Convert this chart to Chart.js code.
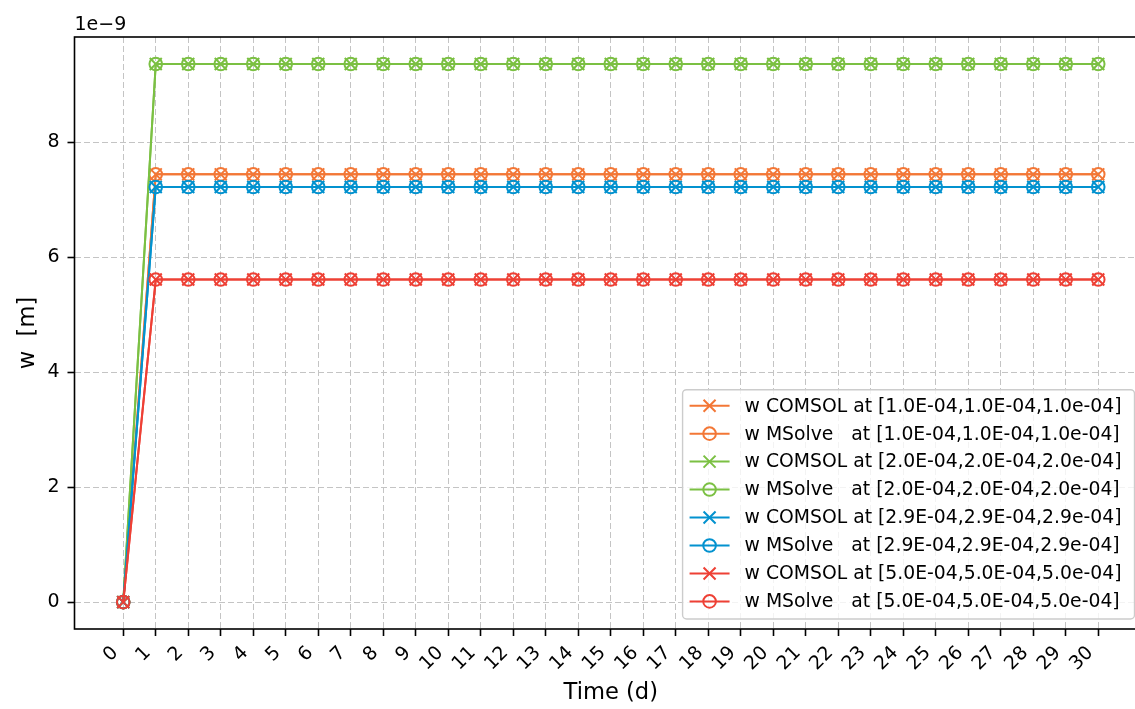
<!DOCTYPE html>
<html>
<head>
<meta charset="utf-8">
<script src="https://cdn.jsdelivr.net/npm/chart.js@4.4.0/dist/chart.umd.min.js"></script>
<style>
  html, body { margin: 0; padding: 0; background: #fff; overflow: hidden; width: 1135px; height: 709px; }
  canvas { display: block; }
</style>
</head>
<body>
<canvas id="chart" width="1147" height="709" style="width:1147px;height:709px"></canvas>
<script>
// Time axis (days)
const days = [0, 1, 2, 3, 4, 5, 6, 7, 8, 9, 10, 11, 12, 13, 14, 15, 16, 17, 18, 19, 20, 21, 22, 23, 24, 25, 26, 27, 28, 29, 30];
const xTickValues = days;
const yTickValues = [0, 2e-9, 4e-9, 6e-9, 8e-9];

// Displacement w [m] at four probe points, COMSOL vs MSolve
const wComsolP1 = [0, 7.44e-9, 7.44e-9, 7.44e-9, 7.44e-9, 7.44e-9, 7.44e-9, 7.44e-9, 7.44e-9, 7.44e-9, 7.44e-9, 7.44e-9, 7.44e-9, 7.44e-9, 7.44e-9, 7.44e-9, 7.44e-9, 7.44e-9, 7.44e-9, 7.44e-9, 7.44e-9, 7.44e-9, 7.44e-9, 7.44e-9, 7.44e-9, 7.44e-9, 7.44e-9, 7.44e-9, 7.44e-9, 7.44e-9, 7.44e-9];
const wMsolveP1 = [0, 7.44e-9, 7.44e-9, 7.44e-9, 7.44e-9, 7.44e-9, 7.44e-9, 7.44e-9, 7.44e-9, 7.44e-9, 7.44e-9, 7.44e-9, 7.44e-9, 7.44e-9, 7.44e-9, 7.44e-9, 7.44e-9, 7.44e-9, 7.44e-9, 7.44e-9, 7.44e-9, 7.44e-9, 7.44e-9, 7.44e-9, 7.44e-9, 7.44e-9, 7.44e-9, 7.44e-9, 7.44e-9, 7.44e-9, 7.44e-9];
const wComsolP2 = [0, 9.36e-9, 9.36e-9, 9.36e-9, 9.36e-9, 9.36e-9, 9.36e-9, 9.36e-9, 9.36e-9, 9.36e-9, 9.36e-9, 9.36e-9, 9.36e-9, 9.36e-9, 9.36e-9, 9.36e-9, 9.36e-9, 9.36e-9, 9.36e-9, 9.36e-9, 9.36e-9, 9.36e-9, 9.36e-9, 9.36e-9, 9.36e-9, 9.36e-9, 9.36e-9, 9.36e-9, 9.36e-9, 9.36e-9, 9.36e-9];
const wMsolveP2 = [0, 9.36e-9, 9.36e-9, 9.36e-9, 9.36e-9, 9.36e-9, 9.36e-9, 9.36e-9, 9.36e-9, 9.36e-9, 9.36e-9, 9.36e-9, 9.36e-9, 9.36e-9, 9.36e-9, 9.36e-9, 9.36e-9, 9.36e-9, 9.36e-9, 9.36e-9, 9.36e-9, 9.36e-9, 9.36e-9, 9.36e-9, 9.36e-9, 9.36e-9, 9.36e-9, 9.36e-9, 9.36e-9, 9.36e-9, 9.36e-9];
const wComsolP3 = [0, 7.22e-9, 7.22e-9, 7.22e-9, 7.22e-9, 7.22e-9, 7.22e-9, 7.22e-9, 7.22e-9, 7.22e-9, 7.22e-9, 7.22e-9, 7.22e-9, 7.22e-9, 7.22e-9, 7.22e-9, 7.22e-9, 7.22e-9, 7.22e-9, 7.22e-9, 7.22e-9, 7.22e-9, 7.22e-9, 7.22e-9, 7.22e-9, 7.22e-9, 7.22e-9, 7.22e-9, 7.22e-9, 7.22e-9, 7.22e-9];
const wMsolveP3 = [0, 7.22e-9, 7.22e-9, 7.22e-9, 7.22e-9, 7.22e-9, 7.22e-9, 7.22e-9, 7.22e-9, 7.22e-9, 7.22e-9, 7.22e-9, 7.22e-9, 7.22e-9, 7.22e-9, 7.22e-9, 7.22e-9, 7.22e-9, 7.22e-9, 7.22e-9, 7.22e-9, 7.22e-9, 7.22e-9, 7.22e-9, 7.22e-9, 7.22e-9, 7.22e-9, 7.22e-9, 7.22e-9, 7.22e-9, 7.22e-9];
const wComsolP4 = [0, 5.61e-9, 5.61e-9, 5.61e-9, 5.61e-9, 5.61e-9, 5.61e-9, 5.61e-9, 5.61e-9, 5.61e-9, 5.61e-9, 5.61e-9, 5.61e-9, 5.61e-9, 5.61e-9, 5.61e-9, 5.61e-9, 5.61e-9, 5.61e-9, 5.61e-9, 5.61e-9, 5.61e-9, 5.61e-9, 5.61e-9, 5.61e-9, 5.61e-9, 5.61e-9, 5.61e-9, 5.61e-9, 5.61e-9, 5.61e-9];
const wMsolveP4 = [0, 5.61e-9, 5.61e-9, 5.61e-9, 5.61e-9, 5.61e-9, 5.61e-9, 5.61e-9, 5.61e-9, 5.61e-9, 5.61e-9, 5.61e-9, 5.61e-9, 5.61e-9, 5.61e-9, 5.61e-9, 5.61e-9, 5.61e-9, 5.61e-9, 5.61e-9, 5.61e-9, 5.61e-9, 5.61e-9, 5.61e-9, 5.61e-9, 5.61e-9, 5.61e-9, 5.61e-9, 5.61e-9, 5.61e-9, 5.61e-9];

const seriesLabels = [
  'w COMSOL at [1.0E-04,1.0E-04,1.0e-04]',
  'w MSolve   at [1.0E-04,1.0E-04,1.0e-04]',
  'w COMSOL at [2.0E-04,2.0E-04,2.0e-04]',
  'w MSolve   at [2.0E-04,2.0E-04,2.0e-04]',
  'w COMSOL at [2.9E-04,2.9E-04,2.9e-04]',
  'w MSolve   at [2.9E-04,2.9E-04,2.9e-04]',
  'w COMSOL at [5.0E-04,5.0E-04,5.0e-04]',
  'w MSolve   at [5.0E-04,5.0E-04,5.0e-04]'
];
const seriesValues = [wComsolP1, wMsolveP1, wComsolP2, wMsolveP2, wComsolP3, wMsolveP3, wComsolP4, wMsolveP4];
const seriesColors = ['#f37736', '#f37736', '#7bc043', '#7bc043', '#0392cf', '#0392cf', '#ee4035', '#ee4035'];

const FONT = "'DejaVu Sans', sans-serif";
const TICK_SIZE = 19;
const LEGEND_SIZE = 18.8;
const TITLE_SIZE = 22.6;
Chart.defaults.font.family = FONT;
Chart.defaults.color = '#000';

const datasets = seriesValues.map((vals, i) => {
  const isComsol = i % 2 === 0;
  return {
    label: seriesLabels[i],
    data: vals.map((v, k) => ({ x: days[k], y: v })),
    borderColor: seriesColors[i],
    backgroundColor: seriesColors[i],
    borderWidth: 2,
    pointStyle: isComsol ? 'crossRot' : 'circle',
    pointRadius: isComsol ? 8.5 : 6.3,
    pointBorderWidth: 2,
    pointBorderColor: seriesColors[i],
    pointBackgroundColor: 'rgba(0,0,0,0)',
    tension: 0,
    order: seriesValues.length - 1 - i
  };
});

// Axes frame, scale multiplier and legend
const decorations = {
  id: 'decorations',
  afterDraw(chart) {
    const ctx = chart.ctx;
    const a = chart.chartArea;
    ctx.save();
    // frame
    ctx.strokeStyle = '#000';
    ctx.lineWidth = 1.6;
    ctx.setLineDash([]);
    ctx.strokeRect(a.left, a.top, a.right - a.left, a.bottom - a.top);
    // offset text
    ctx.fillStyle = '#000';
    ctx.font = TICK_SIZE + 'px ' + FONT;
    ctx.textAlign = 'left';
    ctx.textBaseline = 'alphabetic';
    ctx.fillText('1e\u22129', a.left, 30);

    // legend
    ctx.font = LEGEND_SIZE + 'px ' + FONT;
    const rowH = 27.96;
    const n = chart.data.datasets.length;
    let maxW = 0;
    chart.data.datasets.forEach(ds => { maxW = Math.max(maxW, ctx.measureText(ds.label).width); });
    const boxW = 62 + maxW + 13;
    const boxH = 16 + (n - 1) * rowH + 17.6;
    const boxR = a.right - 12.5;
    const boxB = a.bottom - 10;
    const boxL = boxR - boxW;
    const boxT = boxB - boxH;
    ctx.beginPath();
    ctx.roundRect(boxL, boxT, boxW, boxH, 4);
    ctx.fillStyle = 'rgba(255,255,255,0.8)';
    ctx.fill();
    ctx.strokeStyle = '#cccccc';
    ctx.lineWidth = 1.4;
    ctx.stroke();
    chart.data.datasets.forEach((ds, i) => {
      const cy = boxT + 16 + i * rowH;
      const x0 = boxL + 7, x1 = boxL + 47, xm = (x0 + x1) / 2;
      ctx.strokeStyle = ds.borderColor;
      ctx.lineWidth = ds.borderWidth;
      ctx.beginPath();
      ctx.moveTo(x0, cy);
      ctx.lineTo(x1, cy);
      ctx.stroke();
      ctx.lineWidth = ds.pointBorderWidth;
      ctx.fillStyle = 'rgba(0,0,0,0)';
      Chart.helpers.drawPoint(ctx, { pointStyle: ds.pointStyle, radius: ds.pointRadius, rotation: 0, borderWidth: ds.pointBorderWidth }, xm, cy);
      ctx.fillStyle = '#000';
      ctx.textBaseline = 'middle';
      ctx.fillText(ds.label, boxL + 62, cy + 1);
    });
    ctx.restore();
  }
};

new Chart(document.getElementById('chart'), {
  type: 'line',
  data: { datasets },
  plugins: [decorations],
  options: {
    responsive: false,
    animation: false,
    devicePixelRatio: 1,
    layout: { autoPadding: false, padding: { left: 0, right: 0, top: 37, bottom: 0 } },
    plugins: { legend: { display: false }, tooltip: { enabled: false } },
    scales: {
      x: {
        type: 'linear',
        min: -1.5,
        max: 31.5,
        afterBuildTicks: s => { s.ticks = xTickValues.map(v => ({ value: v })); },
        afterFit: s => { s.height = 80; s.paddingLeft = 0; s.paddingRight = 0; },
        ticks: {
          autoSkip: false,
          maxRotation: 45,
          minRotation: 45,
          padding: 6,
          labelOffset: -8,
          color: '#000',
          font: { size: TICK_SIZE },
          callback: v => String(v)
        },
        grid: { color: '#c4c4c4', lineWidth: 1, tickColor: '#000', tickLength: 7, tickWidth: 1.6 },
        border: { display: false, dash: [6, 3] },
        title: { display: true, text: 'Time (d)', color: '#000', font: { size: TITLE_SIZE }, padding: { top: 0, bottom: 2 } }
      },
      y: {
        type: 'linear',
        min: -0.468e-9,
        max: 9.829e-9,
        afterBuildTicks: s => { s.ticks = yTickValues.map(v => ({ value: v })); },
        afterFit: s => { s.width = 74.5; s.paddingTop = 0; s.paddingBottom = 0; },
        ticks: {
          padding: 8,
          color: '#000',
          font: { size: TICK_SIZE },
          callback: v => String(Math.round(v / 1e-9))
        },
        grid: { color: '#c4c4c4', lineWidth: 1, tickColor: '#000', tickLength: 7, tickWidth: 1.6 },
        border: { display: false, dash: [6, 3] },
        title: { display: true, text: 'w  [m]', color: '#000', font: { size: TITLE_SIZE }, padding: { top: 15, bottom: 0 } }
      }
    }
  }
});
</script>
</body>
</html>
